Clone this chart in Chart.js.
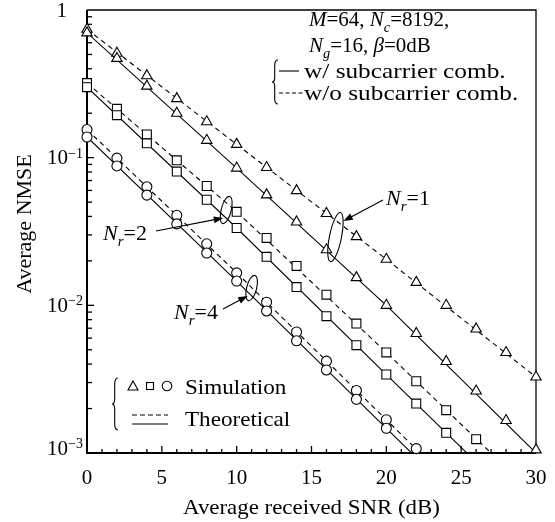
<!DOCTYPE html>
<html>
<head>
<meta charset="utf-8">
<script src="https://cdn.jsdelivr.net/npm/chart.js@4.4.0/dist/chart.umd.min.js"></script>
<style>
  html, body { margin: 0; padding: 0; background: #fff; }
</style>
</head>
<body>
<canvas id="myChart" width="555" height="522"></canvas>
<script>
// SNR points (dB)
const snrSim = [0, 2, 4, 6, 8, 10, 12, 14, 16, 18, 20, 22, 24, 26, 28, 30];
const snrTheory = [0, 10, 20, 30];
const xTicks = [0, 5, 10, 15, 20, 25, 30];
const yTicks = [1, 0.1, 0.01, 0.001];

// simulation markers
const nr1WithSim = [0.70, 0.47, 0.305, 0.20, 0.131, 0.085, 0.056, 0.0367, 0.0238, 0.0154, 0.0100, 0.00645, 0.00417, 0.00263, 0.00166, 0.00105];
const nr1WithoutSim = [0.74, 0.51, 0.359, 0.251, 0.175, 0.123, 0.0857, 0.0598, 0.0419, 0.0292, 0.0205, 0.0143, 0.0100, 0.00692, 0.00479, 0.00327];
const nr2WithSim = [0.30, 0.194, 0.125, 0.0805, 0.0519, 0.0334, 0.0213, 0.0133, 0.00845, 0.00537, 0.0034, 0.00216, 0.00137];
const nr2WithoutSim = [0.32, 0.214, 0.1435, 0.096, 0.0643, 0.043, 0.0286, 0.0185, 0.0118, 0.00752, 0.0048, 0.00306, 0.00195, 0.00124];
const nr4WithSim = [0.138, 0.0879, 0.0558, 0.0356, 0.0226, 0.0146, 0.00916, 0.00575, 0.00365, 0.00231, 0.00147];
const nr4WithoutSim = [0.155, 0.0993, 0.0635, 0.0407, 0.0261, 0.0166, 0.0105, 0.0066, 0.00419, 0.00265, 0.00168, 0.00107];

// theoretical curves
const nr1WithTheory = [0.70, 0.085, 0.0100, 0.00100];
const nr1WithoutTheory = [0.74, 0.123, 0.0205, 0.00327];
const nr2WithTheory = [0.30, 0.0334, 0.0034, 0.00035];
const nr2WithoutTheory = [0.32, 0.043, 0.0048, 0.00051];
const nr4WithTheory = [0.138, 0.0146, 0.00147, 0.00015];
const nr4WithoutTheory = [0.155, 0.0166, 0.00168, 0.00017];

const FONT = '"Liberation Serif", "Times New Roman", serif';

function pts(xs, ys) {
  return ys.map((v, i) => ({ x: xs[i], y: v }));
}

function simSet(label, data, style, radius) {
  return {
    label: label,
    data: pts(snrSim, data),
    showLine: false,
    pointStyle: style,
    pointRadius: radius,
    pointBorderWidth: 1.1,
    pointBackgroundColor: "#fff",
    pointBorderColor: "#000",
    order: 0,
    clip: 10,
  };
}

function theorySet(label, data, dashed) {
  return {
    label: label,
    data: pts(snrTheory, data),
    borderColor: "#000",
    borderWidth: 1.1,
    borderDash: dashed ? [5, 4] : [],
    pointRadius: 0,
    fill: false,
    tension: 0,
    order: 1,
    clip: 0,
  };
}

function rich(ctx, x, y, parts, size) {
  parts.forEach((p) => {
    let fs = p.sub || p.sup ? size * 0.68 : size;
    ctx.font = (p.it ? "italic " : "") + fs + "px " + FONT;
    let dy = p.sub ? size * 0.28 : p.sup ? -size * 0.42 : 0;
    ctx.fillText(p.t, x, y + dy);
    x += ctx.measureText(p.t).width;
  });
  return x;
}

// text squeezed/stretched horizontally like the scanned figure
function wideText(ctx, txt, x, y, size, sx) {
  ctx.save();
  ctx.font = size + "px " + FONT;
  ctx.translate(x, y);
  ctx.scale(sx, 1);
  ctx.fillText(txt, 0, 0);
  ctx.restore();
}

function brace(ctx, x, y0, y1, w) {
  const h = y1 - y0;
  const ym = (y0 + y1) / 2;
  ctx.beginPath();
  ctx.moveTo(x + w, y0);
  ctx.quadraticCurveTo(x + w * 0.45, y0, x + w * 0.45, y0 + h * 0.12);
  ctx.lineTo(x + w * 0.45, ym - h * 0.1);
  ctx.quadraticCurveTo(x + w * 0.45, ym, x, ym);
  ctx.quadraticCurveTo(x + w * 0.45, ym, x + w * 0.45, ym + h * 0.1);
  ctx.lineTo(x + w * 0.45, y1 - h * 0.12);
  ctx.quadraticCurveTo(x + w * 0.45, y1, x + w, y1);
  ctx.stroke();
}

function arrow(ctx, x0, y0, x1, y1) {
  const a = Math.atan2(y1 - y0, x1 - x0);
  ctx.beginPath();
  ctx.moveTo(x0, y0);
  ctx.lineTo(x1 - Math.cos(a) * 6, y1 - Math.sin(a) * 6);
  ctx.stroke();
  ctx.beginPath();
  ctx.moveTo(x1, y1);
  ctx.lineTo(x1 - Math.cos(a - 0.35) * 10, y1 - Math.sin(a - 0.35) * 10);
  ctx.lineTo(x1 - Math.cos(a + 0.35) * 10, y1 - Math.sin(a + 0.35) * 10);
  ctx.closePath();
  ctx.fill();
}

function loop(ctx, cx, cy, rx, ry, rot) {
  ctx.beginPath();
  ctx.ellipse(cx, cy, rx, ry, rot, 0, Math.PI * 2);
  ctx.stroke();
}

const decor = {
  id: "decor",
  beforeDatasetsDraw(chart) {
    const ctx = chart.ctx;
    const a = chart.chartArea;
    const xs = chart.scales.x;
    const ys = chart.scales.y;
    ctx.save();
    ctx.strokeStyle = "#000";
    // frame
    ctx.lineWidth = 1.3;
    ctx.beginPath();
    ctx.moveTo(a.left, a.top);
    ctx.lineTo(a.right, a.top);
    ctx.lineTo(a.right, a.bottom);
    ctx.stroke();
    ctx.lineWidth = 2;
    ctx.beginPath();
    ctx.moveTo(a.left, a.top);
    ctx.lineTo(a.left, a.bottom);
    ctx.lineTo(a.right, a.bottom);
    ctx.stroke();
    // ticks, inside
    ctx.lineWidth = 1.3;
    for (let v = 1; v < 30; v++) {
      const px = xs.getPixelForValue(v);
      const len = v % 5 === 0 ? 7 : 4;
      ctx.beginPath();
      ctx.moveTo(px, a.bottom);
      ctx.lineTo(px, a.bottom - len);
      ctx.stroke();
    }
    for (let e = -3; e <= -1; e++) {
      for (let k = 1; k <= 9; k++) {
        const v = k * Math.pow(10, e);
        const py = ys.getPixelForValue(v);
        const len = k === 1 ? 7 : 5;
        if (k === 1 && e === -3) continue;
        ctx.beginPath();
        ctx.moveTo(a.left, py);
        ctx.lineTo(a.left + len, py);
        ctx.stroke();
      }
    }
    ctx.restore();
  },
  afterDatasetsDraw(chart) {
    const ctx = chart.ctx;
    const a = chart.chartArea;
    const xs = chart.scales.x;
    const ys = chart.scales.y;
    ctx.save();
    ctx.fillStyle = "#000";
    ctx.strokeStyle = "#000";

    // x tick labels
    ctx.font = "21px " + FONT;
    ctx.textAlign = "center";
    ctx.textBaseline = "middle";
    xTicks.forEach((v) => {
      ctx.fillText(String(v), xs.getPixelForValue(v), a.bottom + 25);
    });

    // y tick labels
    yTicks.forEach((v, i) => {
      let py = ys.getPixelForValue(v) + 1;
      if (i === yTicks.length - 1) py -= 5;
      ctx.font = "21px " + FONT;
      ctx.textAlign = "right";
      ctx.textBaseline = "middle";
      if (i === 0) {
        ctx.fillText("1", a.left - 20, py);
      } else {
        ctx.fillText("10", a.left - 19, py);
        ctx.font = "14px " + FONT;
        ctx.textAlign = "left";
        ctx.textBaseline = "alphabetic";
        ctx.fillText("\u2212" + i, a.left - 19, py - 1);
      }
    });

    // axis titles
    ctx.textAlign = "center";
    ctx.textBaseline = "alphabetic";
    wideText(ctx, "Average received SNR (dB)", (a.left + a.right) / 2, a.bottom + 61, 22, 1.04);
    ctx.save();
    ctx.translate(31, 224);
    ctx.rotate(-Math.PI / 2);
    ctx.font = "22px " + FONT;
    ctx.fillText("Average NMSE", 0, 0);
    ctx.restore();

    // parameter block, top right
    ctx.textAlign = "left";
    rich(ctx, 309, 26, [
      { t: "M", it: true }, { t: "=64, " },
      { t: "N", it: true }, { t: "c", it: true, sub: true }, { t: "=8192," },
    ], 21);
    rich(ctx, 309, 52, [
      { t: "N", it: true }, { t: "g", it: true, sub: true }, { t: "=16, " },
      { t: "\u03b2", it: true }, { t: "=0dB" },
    ], 21);
    ctx.lineWidth = 1.1;
    brace(ctx, 272, 60, 104, 6);
    ctx.beginPath();
    ctx.moveTo(279, 71);
    ctx.lineTo(299, 71);
    ctx.stroke();
    ctx.setLineDash([4, 2.5]);
    ctx.beginPath();
    ctx.moveTo(279, 93);
    ctx.lineTo(303, 93);
    ctx.stroke();
    ctx.setLineDash([]);
    wideText(ctx, "w/ subcarrier comb.", 304, 78, 22, 1.15);
    wideText(ctx, "w/o subcarrier comb.", 304, 100, 22, 1.15);

    // simulation / theoretical key, bottom left
    brace(ctx, 112, 378, 430, 6);
    ctx.lineWidth = 1.1;
    ctx.beginPath();
    ctx.moveTo(133, 381);
    ctx.lineTo(138, 390);
    ctx.lineTo(128, 390);
    ctx.closePath();
    ctx.stroke();
    ctx.strokeRect(146.5, 382.5, 7, 7);
    ctx.beginPath();
    ctx.arc(167, 386, 4.8, 0, Math.PI * 2);
    ctx.stroke();
    wideText(ctx, "Simulation", 185, 394, 22, 1.05);
    ctx.setLineDash([5, 3]);
    ctx.beginPath();
    ctx.moveTo(132, 415);
    ctx.lineTo(168, 415);
    ctx.stroke();
    ctx.setLineDash([]);
    ctx.beginPath();
    ctx.moveTo(132, 424);
    ctx.lineTo(168, 424);
    ctx.stroke();
    wideText(ctx, "Theoretical", 185, 426, 22, 1.05);

    // Nr labels, loops and arrows (anchored on the data scales)
    ctx.lineWidth = 1.1;
    const l1x = xs.getPixelForValue(16.6), l1y = ys.getPixelForValue(0.029);
    loop(ctx, l1x, l1y, 6, 25, 0.2);
    arrow(ctx, 383, 200, l1x + 8, l1y - 16);
    rich(ctx, 386, 205, [
      { t: "N", it: true }, { t: "r", it: true, sub: true }, { t: "=1" },
    ], 22);

    const l2x = xs.getPixelForValue(9.3), l2y = ys.getPixelForValue(0.0442);
    loop(ctx, l2x, l2y, 5, 14, 0.25);
    arrow(ctx, 156, 231, l2x - 3, l2y + 8);
    rich(ctx, 103, 240, [
      { t: "N", it: true }, { t: "r", it: true, sub: true }, { t: "=2" },
    ], 22);

    const l4x = xs.getPixelForValue(11), l4y = ys.getPixelForValue(0.0131);
    loop(ctx, l4x, l4y, 5, 13, 0.25);
    arrow(ctx, 223, 309, l4x - 4, l4y + 8);
    rich(ctx, 174, 319, [
      { t: "N", it: true }, { t: "r", it: true, sub: true }, { t: "=4" },
    ], 22);

    ctx.restore();
  },
};

const myChart = new Chart(document.getElementById("myChart").getContext("2d"), {
  type: "line",
  data: {
    datasets: [
      simSet("Nr=1 w/ sim", nr1WithSim, "triangle", 6),
      simSet("Nr=1 w/o sim", nr1WithoutSim, "triangle", 6),
      simSet("Nr=2 w/ sim", nr2WithSim, "rect", 6.3),
      simSet("Nr=2 w/o sim", nr2WithoutSim, "rect", 6.3),
      simSet("Nr=4 w/ sim", nr4WithSim, "circle", 5),
      simSet("Nr=4 w/o sim", nr4WithoutSim, "circle", 5),
      theorySet("Nr=1 w/", nr1WithTheory, false),
      theorySet("Nr=1 w/o", nr1WithoutTheory, true),
      theorySet("Nr=2 w/", nr2WithTheory, false),
      theorySet("Nr=2 w/o", nr2WithoutTheory, true),
      theorySet("Nr=4 w/", nr4WithTheory, false),
      theorySet("Nr=4 w/o", nr4WithoutTheory, true),
    ],
  },
  options: {
    responsive: false,
    animation: false,
    devicePixelRatio: 1,
    events: [],
    layout: {
      padding: { left: 87, right: 19, top: 10, bottom: 69 },
    },
    scales: {
      x: { type: "linear", min: 0, max: 30, display: false },
      y: { type: "logarithmic", min: 0.001, max: 1, display: false },
    },
    plugins: {
      legend: { display: false },
      tooltip: { enabled: false },
    },
  },
  plugins: [decor],
});
</script>
</body>
</html>
